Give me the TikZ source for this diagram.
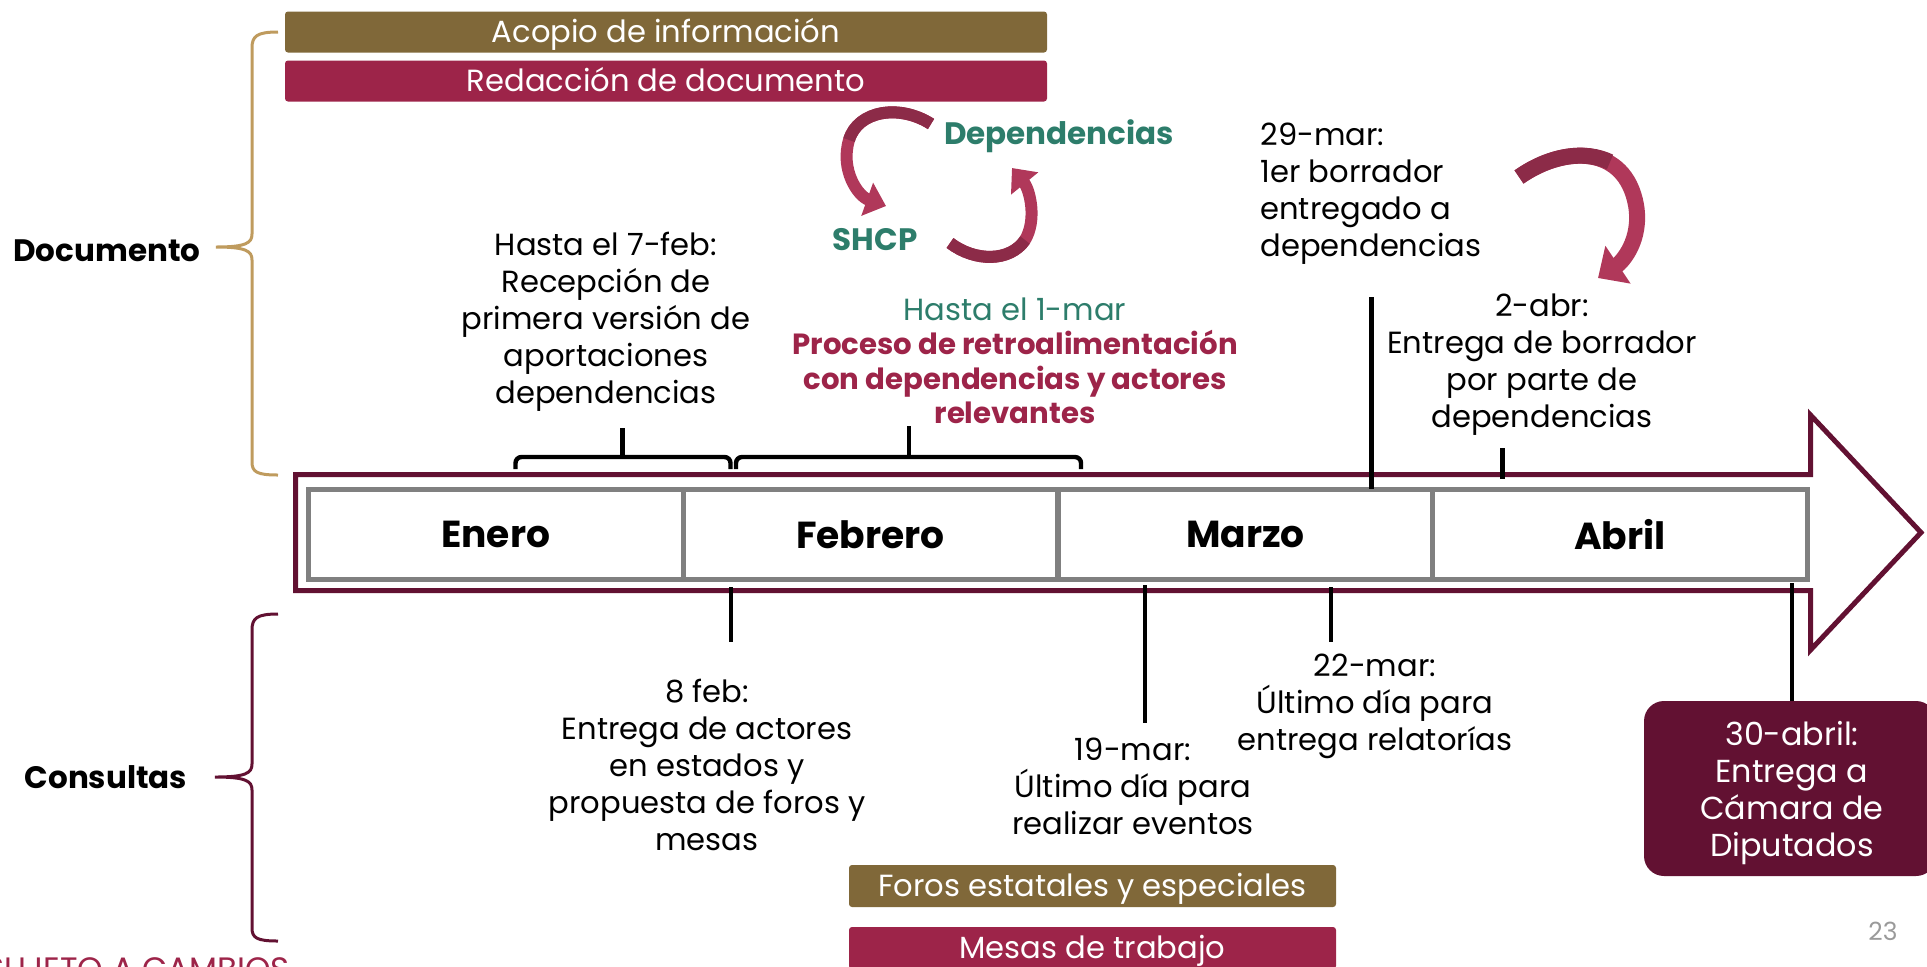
\documentclass[tikz,border=0pt]{standalone}
\usepackage{fontspec}
\setmainfont{Poppins}
\usetikzlibrary{arrows.meta}
\definecolor{gbrown}{HTML}{806839}
\definecolor{gmaroon}{HTML}{9D2449}
\definecolor{gdark}{HTML}{621132}
\definecolor{ggreen}{HTML}{2D7D6B}
\definecolor{ggold}{HTML}{BF9B5E}
\definecolor{gboxgray}{HTML}{808080}
\definecolor{arrlight}{HTML}{B0385A}
\definecolor{arrdark}{HTML}{8C2B48}
\definecolor{pagegray}{HTML}{9A9A9A}
\begin{document}
\begin{tikzpicture}[x=0.5pt,y=-0.5pt,
  body/.style={font=\fontsize{15.3}{18.5}\selectfont, align=center, inner sep=0pt},
  boldlbl/.style={font=\bfseries\fontsize{15.5}{18.5}\selectfont, inner sep=0pt},
  bar/.style={rounded corners=1.5pt, text=white, inner sep=0pt, text height=10.6pt, text depth=0pt, font=\fontsize{15.3}{17}\selectfont},
  monthbox/.style={draw=gboxgray, line width=2.5pt, minimum width=187.25pt, minimum height=45pt, inner sep=0pt, font=\bfseries\fontsize{18.8}{21}\selectfont},
  conn/.style={line width=2.2pt, black},
  brace/.style={line width=1.5pt},
  ribbon/.style={line width=6pt, arrlight, -{Triangle[width=17pt,length=10pt]}},
]
\useasboundingbox (0,0) rectangle (1927,966);
\clip (0,0) rectangle (1927,966);

% top bars
\node[bar, fill=gbrown, minimum width=381pt, minimum height=20.5pt] (acopio) at (666,32) {Acopio de información};
\node[bar, fill=gmaroon, minimum width=381pt, minimum height=20.5pt] (redac) at (666,81) {Redacción de documento};

% braces on the left
\node[boldlbl] (doc) at (107,251) {Documento};
\node[boldlbl] (cons) at (106,777) {Consultas};
\draw[brace, ggold] (278,32) .. controls (257,32) and (252,36) .. (252,48) -- (252,234)
  .. controls (252,243) and (246,247) .. (216,247)
  .. controls (246,247) and (252,251) .. (252,260) -- (252,462)
  .. controls (252,472) and (257,475) .. (278,475);
\draw[brace, gdark] (278,614) .. controls (257,614) and (252,618) .. (252,630) -- (252,764)
  .. controls (252,773) and (246,777) .. (215,777)
  .. controls (246,777) and (252,781) .. (252,790) -- (252,928)
  .. controls (252,938) and (257,941) .. (278,941);

% big arrow
\draw[gdark, line width=2.5pt, line join=miter] (295.5,474.5) -- (1810.5,474.5) -- (1810.5,415) -- (1921,532.5) -- (1810.5,650) -- (1810.5,590.5) -- (295.5,590.5) -- cycle;

% month boxes
\node[monthbox] (ene) at (495.75,534.5) {Enero};
\node[monthbox] (feb) at (870.5,534.5) {Febrero};
\node[monthbox] (mar) at (1245.5,534.5) {Marzo};
\node[monthbox] (abr) at (1619.75,534.5) {Abril};

% top texts
\node[body] (t7feb) at (606,322) {Hasta el 7-feb:\\Recepción de\\primera versión de\\aportaciones\\dependencias};
\node[body, text=ggreen] (t1mar) at (1015,309) {Hasta el 1-mar};
\node[body, font=\bfseries\fontsize{14.6}{17.3}\selectfont, text=gmaroon] (proc) at (1015,377) {Proceso de retroalimentación\\con dependencias y actores\\relevantes};
\node[body, align=left, anchor=west] (t29) at (1260,194) {29-mar:\\1er borrador\\entregado a\\dependencias};
\node[body] (t2abr) at (1542,365) {2-abr:\\Entrega de borrador\\por parte de\\dependencias};

\node[boldlbl, text=ggreen] (dep) at (1059,136) {Dependencias};
\node[boldlbl, text=ggreen] (shcp) at (875,240) {SHCP};

% cycle arrows
\draw[ribbon] (931,124) .. controls (900,104) and (858,110) .. (849,140)
  .. controls (840,170) and (858,196) .. (886,206);
\draw[line width=6pt, arrdark] (931,124) .. controls (900,104) and (858,110) .. (849,140);
\draw[ribbon] (950,243) .. controls (975,262) and (1010,262) .. (1025,240)
  .. controls (1037,220) and (1030,190) .. (1012,168);
\draw[line width=6pt, arrdark] (950,243) .. controls (975,262) and (1010,262) .. (1025,240);
\draw[ribbon, line width=8pt, -{Triangle[width=22pt,length=12pt]}] (1519,177) .. controls (1565,145) and (1625,145) .. (1636,205)
  .. controls (1642,240) and (1622,262) .. (1598,278);
\draw[line width=8pt, arrdark] (1519,177) .. controls (1550,155) and (1585,150) .. (1610,162);

% braces under top texts
\coordinate (b1l) at (515.5,469); \coordinate (b1r) at (730.5,469);
\coordinate (b1m) at (622.5,457); \coordinate (b1t) at (622.5,428);
\draw[conn, rounded corners=3pt] (b1l) -- (515.5,457) -- (730.5,457) -- (b1r);
\draw[conn] (b1m) -- (b1t);
\coordinate (b2l) at (736,469); \coordinate (b2r) at (1081,469);
\coordinate (b2m) at (909,457); \coordinate (b2t) at (909,426);
\draw[conn, rounded corners=3pt] (b2l) -- (736,457) -- (1081,457) -- (b2r);
\draw[conn] (b2m) -- (b2t);

% vertical markers
\coordinate (m29a) at (1371.5,297); \coordinate (m29b) at (1371.5,489);
\draw[conn] (m29a) -- (m29b);
\coordinate (m2a) at (1502.5,448); \coordinate (m2b) at (1502.5,479);
\draw[conn] (m2a) -- (m2b);
\coordinate (m8a) at (731,587); \coordinate (m8b) at (731,642);
\draw[conn] (m8a) -- (m8b);
\coordinate (m19a) at (1145,585); \coordinate (m19b) at (1145,723);
\draw[conn] (m19a) -- (m19b);
\coordinate (m22a) at (1331,587); \coordinate (m22b) at (1331,642);
\draw[conn] (m22a) -- (m22b);

% bottom texts
\node[body] (t8feb) at (707,765) {8 feb:\\Entrega de actores\\en estados y\\propuesta de foros y\\mesas};
\node[body] (t19) at (1133,786) {19-mar:\\Último día para\\realizar eventos};
\node[body] (t22) at (1375,706) {22-mar:\\Último día para\\entrega relatorías};

\node[fill=gdark, text=white, inner sep=0pt, rounded corners=10pt, minimum width=146pt, minimum height=87.5pt, align=center, font=\fontsize{15.9}{18.5}\selectfont] (camara) at (1790,788.5) {};
\node[text=white, inner sep=0pt, align=center, font=\fontsize{15.9}{18.5}\selectfont] (camaratxt) at (1792,793) {30-abril:\\Entrega a\\Cámara de\\Diputados};
\coordinate (m30a) at (1792,583);
\draw[conn] (m30a) -- (camara.north -| m30a);

\node[bar, fill=gbrown, minimum width=243.5pt, minimum height=21pt] (foros) at (1092.5,886) {Foros estatales y especiales};
\node[bar, fill=gmaroon, minimum width=243.5pt, minimum height=21pt] (mesas) at (1092.5,948) {Mesas de trabajo};

\node[anchor=base east, inner sep=0pt, text=gmaroon, font=\fontsize{16.2}{18}\selectfont] (sujeto) at (290,980) {SUJETO A CAMBIOS};
\node[inner sep=0pt, text=pagegray, font=\fontsize{12.5}{15}\selectfont] (pnum) at (1883,931) {23};
\end{tikzpicture}
\end{document}
